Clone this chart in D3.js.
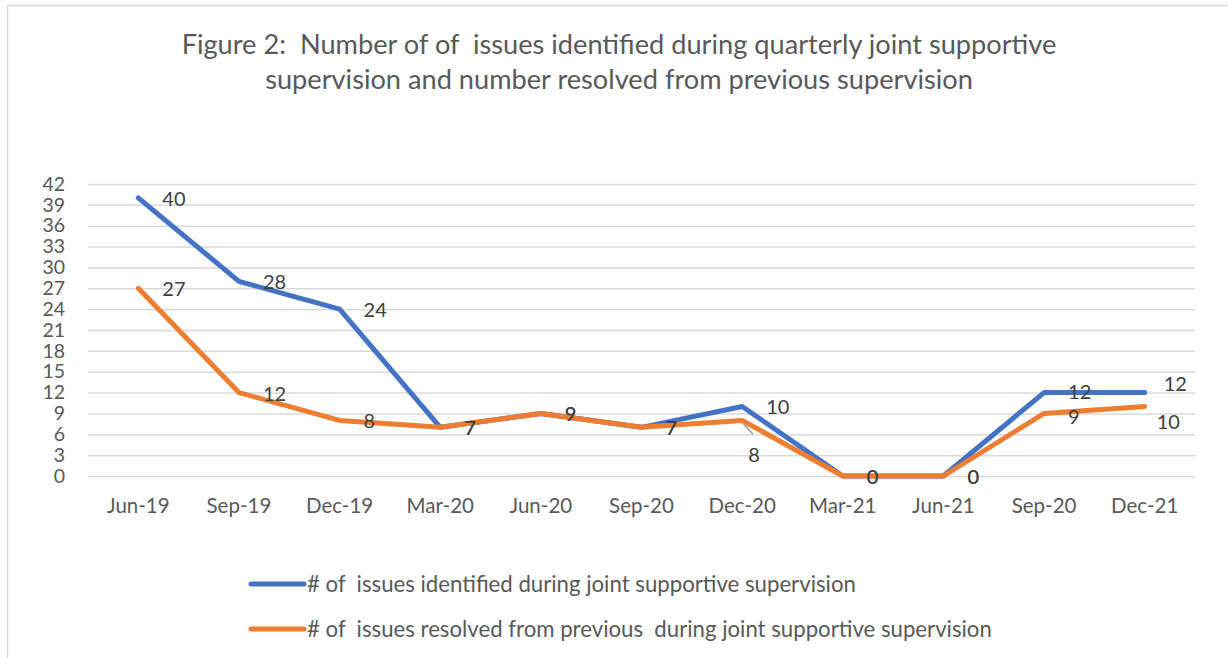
<!DOCTYPE html>
<html>
<head>
<meta charset="utf-8">
<script src="https://cdn.jsdelivr.net/npm/d3@7"></script>
<style>
  body { margin: 0; background: #fff; }
  text { font-family: Lato, "Open Sans", sans-serif; white-space: pre; }
</style>
</head>
<body>
<div id="vis"></div>
<script>
// Line chart: issues identified vs resolved, quarterly joint supportive supervision

/* *************************** Data ***************************** */
var quarters = ['Jun-19', 'Sep-19', 'Dec-19', 'Mar-20', 'Jun-20', 'Sep-20', 'Dec-20', 'Mar-21', 'Jun-21', 'Sep-20', 'Dec-21'];
var identified = [40, 28, 24, 7, 9, 7, 10, 0, 0, 12, 12];
var resolved = [27, 12, 8, 7, 9, 7, 8, 0, 0, 9, 10];
var yTicks = [0, 3, 6, 9, 12, 15, 18, 21, 24, 27, 30, 33, 36, 39, 42];
var titleLines = ['Figure 2:  Number of of  issues identified during quarterly joint supportive',
                  'supervision and number resolved from previous supervision'];
var seriesNames = ['# of  issues identified during joint supportive supervision',
                   '# of  issues resolved from previous  during joint supportive supervision'];

/* *************************** Settings ***************************** */
var width = 1228;
var height = 658;
var margin = { left: 88, right: 33, top: 184, bottom: 182 };
var drawWidth = width - margin.left - margin.right;
var drawHeight = height - margin.top - margin.bottom;

var colors = ['#4472C4', '#ED7D31'];
var textColor = '#595959';
var labelColor = '#404040';

var svg = d3.select('#vis')
    .append('svg')
    .attr('width', width)
    .attr('height', height);

// chart area border
svg.append('rect')
    .attr('x', 7.5)
    .attr('y', 5.5)
    .attr('width', width + 10)
    .attr('height', height + 10)
    .attr('fill', 'none')
    .attr('stroke', '#d9d9d9')
    .attr('stroke-width', 1.5);

// title
svg.append('g').selectAll('text')
    .data(titleLines)
    .enter().append('text')
    .attr('x', 619)
    .attr('y', function(d, i) { return 54 + i * 35; })
    .attr('text-anchor', 'middle')
    .attr('fill', textColor)
    .style('font-size', '27.2px')
    .text(function(d) { return d; });

/* *************************** Scales & axes ***************************** */
var xScale = d3.scaleBand()
    .domain(d3.range(quarters.length))
    .range([0, drawWidth]);

var yScale = d3.scaleLinear()
    .domain([0, 42])
    .range([drawHeight, 0]);

var g = svg.append('g')
    .attr('transform', 'translate(' + margin.left + ',' + margin.top + ')');

// gridlines
g.append('g')
    .call(d3.axisLeft(yScale).tickValues(yTicks).tickSize(-drawWidth).tickFormat(''))
    .call(function(s) {
        s.select('.domain').remove();
        s.selectAll('line').attr('stroke', '#d9d9d9').attr('stroke-width', 1.5);
    });

// y tick labels
g.append('g')
    .call(d3.axisLeft(yScale).tickValues(yTicks).tickSize(0).tickPadding(23))
    .call(function(s) {
        s.select('.domain').remove();
        s.selectAll('text')
            .attr('fill', textColor)
            .style('font-size', '19.5px')
            .style('font-family', 'Lato, sans-serif');
    });

// x axis labels
g.append('g')
    .attr('transform', 'translate(0,' + drawHeight + ')')
    .call(d3.axisBottom(xScale).tickSize(0).tickPadding(22).tickFormat(function(i) { return quarters[i]; }))
    .call(function(s) {
        s.select('.domain').remove();
        s.selectAll('text')
            .attr('fill', textColor)
            .style('font-size', '20.5px')
            .style('font-family', 'Lato, sans-serif');
    });

/* *************************** Lines ***************************** */
var cx = function(i) { return xScale(i) + xScale.bandwidth() / 2; };

var line = d3.line()
    .x(function(d, i) { return cx(i); })
    .y(function(d) { return yScale(d); });

// blue drawn first, orange on top (as in the original)
[identified, resolved].forEach(function(vals, k) {
    g.append('path')
        .datum(vals)
        .attr('d', line)
        .attr('fill', 'none')
        .attr('stroke', colors[k])
        .attr('stroke-width', 5)
        .attr('stroke-linejoin', 'round')
        .attr('stroke-linecap', 'round');
});

/* *************************** Data labels ***************************** */
var last = quarters.length - 1;

// leader line for the orange Dec-20 label
g.append('line')
    .attr('x1', cx(6)).attr('y1', yScale(resolved[6]) + 2)
    .attr('x2', cx(6) + 11).attr('y2', yScale(resolved[6]) + 14)
    .attr('stroke', '#a6a6a6')
    .attr('stroke-width', 1.5);

[identified, resolved].forEach(function(vals, k) {
    g.append('g').selectAll('text')
        .data(vals)
        .enter().append('text')
        .attr('x', function(d, i) {
            if (i === last) return cx(i) + (k === 0 ? 19 : 12);
            if (k === 1 && i === 6) return cx(i) + 6;
            return cx(i) + 24;
        })
        .attr('y', function(d, i) {
            var y = yScale(d);
            if (i === last) return y + (k === 0 ? -9 : 16);
            if (k === 1 && i === 6) return y + 35;
            // Sep-20: labels sit close, nudge apart
            if (i === last - 1) return y + (k === 0 ? -1 : 4);
            return y + 1;
        })
        .attr('dy', '0.35em')
        .attr('fill', labelColor)
        .style('font-size', '20px')
        .text(function(d) { return d; });
});

/* *************************** Legend ***************************** */
var legend = svg.append('g');
seriesNames.forEach(function(name, k) {
    var y = 584 + k * 45;
    legend.append('line')
        .attr('x1', 251).attr('x2', 304)
        .attr('y1', y).attr('y2', y)
        .attr('stroke', colors[k])
        .attr('stroke-width', 5)
        .attr('stroke-linecap', 'round');
    legend.append('text')
        .attr('x', 307)
        .attr('y', y)
        .attr('dy', '0.35em')
        .attr('fill', textColor)
        .style('font-size', '22.2px')
        .text(name);
});
</script>
</body>
</html>
